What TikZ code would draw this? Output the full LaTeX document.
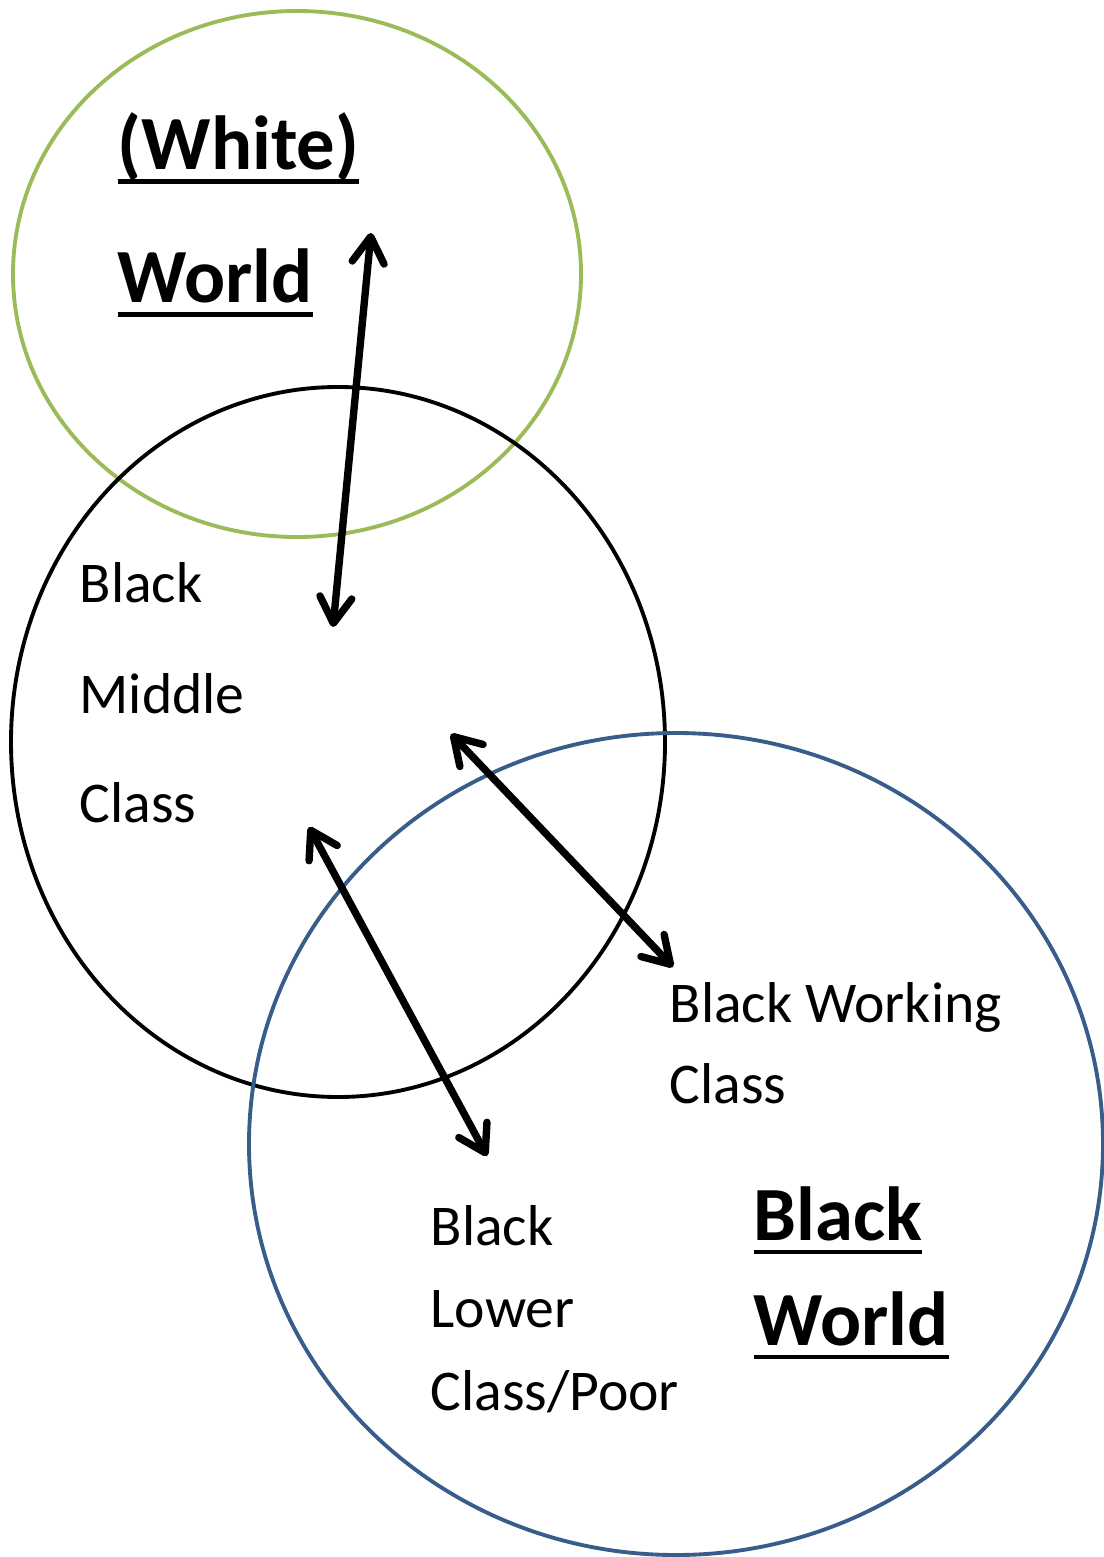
\documentclass[tikz,border=0pt]{standalone}
\usepackage{fontspec}
\setmainfont{Carlito}
\usetikzlibrary{positioning, arrows.meta, shapes.geometric}

\definecolor{worldgreen}{RGB}{155,187,89}
\definecolor{worldblue}{RGB}{56,93,138}

% underline drawn below the baseline
\newcommand{\wul}[1]{\setbox0\hbox{#1}\rlap{\rule[-4.1pt]{\wd0}{1.4pt}}\box0}

\begin{document}
\begin{tikzpicture}[
    % --- Styles ---
    sphere/.style={
        ellipse,
        draw,
        line width=1.1pt,
        inner sep=0pt
    },
    label/.style={
        anchor=base west,
        inner sep=0pt,
        align=left,
        font=\fontsize{16.4}{23}\selectfont
    },
    title/.style={
        anchor=base west,
        inner sep=0pt,
        align=left,
        font=\fontsize{21.8}{30}\selectfont\bfseries
    },
    arrow/.style={
        {Straight Barb[length=2.6mm, width=3.2mm, round]}-{Straight Barb[length=2.6mm, width=3.2mm, round]},
        line width=2.1pt
    }
]
\useasboundingbox (0,0) rectangle (11.04,-15.57);

% --- Worlds ---
\node[sphere, draw=worldgreen, minimum width=5.68cm, minimum height=5.26cm] (white) at (2.97,-2.74) {};
\node[sphere, draw=black, minimum width=6.54cm, minimum height=7.10cm] (middle) at (3.38,-7.42) {};
\node[sphere, draw=worldblue, minimum width=8.54cm, minimum height=8.22cm] (blackworld) at (6.76,-11.44) {};

% --- Labels ---
\node[title] (whitetitle) at (1.17,-1.70) {\wul{(White)}};
\node[title] (whiteworld) at (1.17,-3.03) {\wul{World}};
\node[title] (blacktitle) at (7.53,-12.40) {\wul{Black}};
\node[title] (blackworldtitle) at (7.53,-13.45) {\wul{World}};

\node[label] (mc1) at (0.79,-6.03) {Black};
\node[label] (mc2) at (0.79,-7.13) {Middle};
\node[label] (mc3) at (0.79,-8.22) {Class};

\node[label] (wc1) at (6.69,-10.22) {Black Working};
\node[label] (wc2) at (6.69,-11.03) {Class};

\node[label] (lc1) at (4.30,-12.45) {Black};
\node[label] (lc2) at (4.30,-13.27) {Lower};
\node[label] (lc3) at (4.30,-14.10) {Class/Poor};

% --- Arrow ends ---
\coordinate (wtop) at (3.71,-2.33);
\coordinate (wbot) at (3.33,-6.27);
\coordinate (ktop) at (4.51,-7.34);
\coordinate (kbot) at (6.73,-9.67);
\coordinate (ptop) at (3.09,-8.27);
\coordinate (pbot) at (4.87,-11.56);

% --- Arrows ---
\draw[arrow] (wtop) -- (wbot);
\draw[arrow] (ktop) -- (kbot);
\draw[arrow] (ptop) -- (pbot);
\end{tikzpicture}
\end{document}
